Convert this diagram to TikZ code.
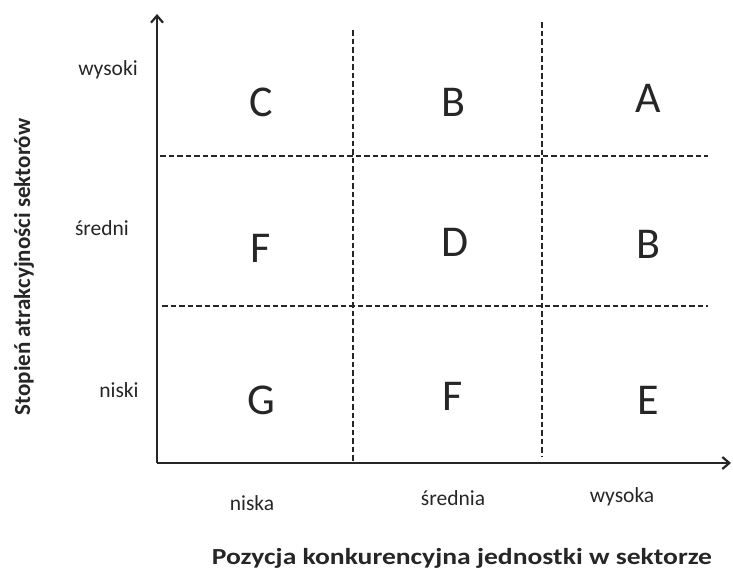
\documentclass[tikz,border=0pt]{standalone}
\usepackage{fontspec}
\setmainfont{Carlito}
\usetikzlibrary{arrows.meta}
\begin{document}
\begin{tikzpicture}[x=1pt,y=-1pt,
  axis/.style={line width=1.8pt,draw=black!85,-{Straight Barb[length=7pt,width=12pt,line width=2.2pt]}},
  grid/.style={line width=1.6pt,draw=black!85,dash pattern=on 5.5pt off 3pt},
  cell/.style={font=\fontsize{44}{48}\selectfont,text=black!85},
  lab/.style={font=\fontsize{21.5}{24}\selectfont,text=black!85},
  ttl/.style={font=\fontsize{23}{26}\selectfont\bfseries,text=black!85}]
\useasboundingbox (0,0) rectangle (733,581);
\coordinate (O) at (157,463);
\coordinate (Ytop) at (157,14);
\coordinate (Xend) at (731,463);
\coordinate (v1t) at (353,30);
\coordinate (v1b) at (353,462);
\coordinate (v2t) at (542,22);
\coordinate (v2b) at (542,456);
\coordinate (h1l) at (160,156);
\coordinate (h1r) at (708,156);
\coordinate (h2l) at (162,306);
\coordinate (h2r) at (708,306);
\draw[grid] (v1t) -- (v1b);
\draw[grid] (v2t) -- (v2b);
\draw[grid] (h1l) -- (h1r);
\draw[grid] (h2l) -- (h2r);
\draw[axis] (O) -- (Ytop);
\draw[axis] (O) -- (Xend);
\node[cell] (c11) at (261,102) {C};
\node[cell] (c12) at (453,102) {B};
\node[cell] (c13) at (648,98) {A};
\node[cell] (c21) at (261,248) {F};
\node[cell] (c22) at (455,242) {D};
\node[cell] (c23) at (648,244) {B};
\node[cell] (c31) at (261,400) {G};
\node[cell] (c32) at (453,396) {F};
\node[cell] (c33) at (648,400) {E};
\node[lab] (ly1) at (108,70) {wysoki};
\node[lab] (ly2) at (102,228) {średni};
\node[lab] (ly3) at (119,390) {niski};
\node[lab] (lx1) at (252,503) {niska};
\node[lab] (lx2) at (453,498) {średnia};
\node[lab] (lx3) at (622,497) {wysoka};
\node[ttl,xscale=1.2] (tx) at (462,558) {Pozycja konkurencyjna jednostki w sektorze};
\node[ttl,rotate=90] (ty) at (24,267) {Stopień atrakcyjności sektorów};
\end{tikzpicture}
\end{document}
